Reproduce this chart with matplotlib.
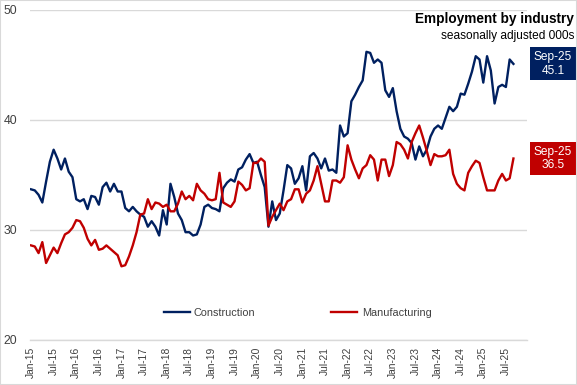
import matplotlib
matplotlib.use("Agg")
import matplotlib.pyplot as plt
import matplotlib.transforms as mtransforms
from matplotlib.patches import Rectangle

months = ["Jan", "Feb", "Mar", "Apr", "May", "Jun", "Jul", "Aug", "Sep", "Oct", "Nov", "Dec"]
dates = [f"{months[i % 12]}-{15 + i // 12}" for i in range(129)]  # Jan-15 .. Sep-25

construction = [
    33.7, 33.6, 33.2, 32.5, 34.4, 36.2, 37.3, 36.5, 35.5, 36.5, 35.3, 34.8,
    32.8, 32.6, 32.8, 31.9, 33.1, 33.0, 32.3, 33.9, 34.3, 33.5, 34.2, 33.5,
    33.5, 32.0, 31.7, 32.1, 31.7, 31.4, 31.2, 30.3, 30.8, 30.3, 29.5, 31.8,
    30.5, 34.2, 33.0, 31.5, 30.9, 29.8, 29.8, 29.5, 29.6, 30.5, 32.1, 32.3,
    32.0, 31.9, 31.7, 33.8, 34.3, 34.6, 34.4, 35.5, 35.7, 36.4, 36.9, 36.1,
    36.2, 35.0, 33.9, 30.3, 32.6, 30.9, 31.5, 33.6, 35.9, 35.6, 34.2, 34.7,
    35.8, 33.6, 36.7, 37.0, 36.5, 35.6, 36.5, 35.4, 35.5, 35.2, 39.5, 38.5,
    38.8, 41.7, 42.3, 43.0, 43.6, 46.2, 46.1, 45.2, 45.5, 45.2, 42.7, 42.1,
    42.9, 40.8, 39.2, 38.5, 38.3, 37.9, 36.4, 37.6, 36.7, 37.3, 38.5, 39.2,
    39.5, 39.2, 40.2, 41.2, 40.8, 41.2, 42.4, 42.3, 43.3, 44.4, 45.8, 45.5,
    43.4, 45.8, 44.5, 41.5, 43.0, 43.2, 43.0, 45.5, 45.1,
]

manufacturing = [
    28.6, 28.5, 27.9, 28.9, 27.0, 27.7, 28.4, 27.9, 28.8, 29.6, 29.8, 30.2,
    30.9, 30.8, 30.2, 29.2, 28.6, 29.1, 28.2, 28.3, 28.6, 28.3, 28.0, 27.7,
    26.7, 26.8, 27.6, 28.6, 29.8, 31.4, 31.5, 32.8, 31.9, 32.5, 32.4, 32.1,
    32.3, 31.7, 31.7, 32.4, 33.5, 32.8, 33.1, 32.7, 34.2, 33.6, 33.3, 32.8,
    32.7, 32.8, 35.2, 32.5, 32.3, 32.1, 32.6, 34.4, 34.1, 33.6, 33.8, 36.1,
    36.1, 36.5, 36.2, 30.4, 31.2, 31.8, 32.4, 31.8, 32.6, 32.8, 33.7, 33.7,
    32.5, 33.3, 33.6, 34.5, 35.8, 34.2, 32.6, 32.6, 34.5, 34.5, 34.3, 34.8,
    37.7, 36.4, 35.5, 34.7, 35.6, 35.9, 36.8, 36.4, 34.5, 36.4, 36.4, 34.9,
    35.9, 38.0, 37.8, 37.3, 36.5, 38.0, 38.8, 39.5, 38.4, 37.2, 35.9, 36.9,
    36.7, 36.7, 36.8, 37.3, 35.1, 34.2, 33.8, 33.6, 35.2, 35.8, 36.3, 36.1,
    34.8, 33.6, 33.6, 33.6, 34.5, 35.1, 34.5, 34.7, 36.5,
]

series_names = ["Construction", "Manufacturing"]
title = "Employment by industry"
subtitle = "seasonally adjusted 000s"
y_ticks = [20, 30, 40, 50]

NAVY = "#002060"
RED = "#C00000"
GRID = "#D9D9D9"
TXT = "#404040"

plt.rcParams['font.family'] = ['Liberation Sans', 'DejaVu Sans']

fig = plt.figure(figsize=(5.77, 3.85), dpi=100)
fig.patch.set_facecolor("white")
# light chart border
fig.patches.append(Rectangle((0, 0), 1, 1, transform=fig.transFigure, fill=False,
                             edgecolor="#D9D9D9", linewidth=1.5, zorder=0))

ax = fig.add_axes([30 / 577, 1 - 340 / 385, 497 / 577, 330 / 385])
x = list(range(len(dates)))
ax.plot(x, construction, color=NAVY, lw=1.7, label=series_names[0], zorder=3)
ax.plot(x, manufacturing, color=RED, lw=1.7, label=series_names[1], zorder=3)

ax.set_ylim(20, 50)
ax.set_yticks(y_ticks)
ax.set_xlim(-0.27, 131.6)
tick_pos = list(range(0, len(dates), 6))
ax.set_xticks(tick_pos)
ax.set_xticklabels([dates[i] for i in tick_pos], rotation=90, fontsize=7.4, color=TXT)
ax.tick_params(axis='y', labelsize=8.8, colors=TXT, length=0, pad=9)
ax.tick_params(axis='x', length=0, pad=5)
ax.grid(axis='y', color=GRID, lw=1)
ax.set_axisbelow(True)
for s in ["top", "right", "left"]:
    ax.spines[s].set_visible(False)
ax.spines["bottom"].set_color(GRID)
ax.spines["bottom"].set_linewidth(1)

leg = ax.legend(loc="center", bbox_to_anchor=(297.5 / 577, 1 - 313 / 385),
                bbox_transform=fig.transFigure, ncol=2, frameon=False,
                fontsize=7.8, handlelength=2.4, handletextpad=0.4,
                columnspacing=7.0, labelcolor=TXT)

fig.text(574 / 577, 1 - 19 / 385, title, ha="right", va="center",
         fontsize=9.8, fontweight="bold", color="black")
fig.text(574 / 577, 1 - 36 / 385, subtitle, ha="right", va="center",
         fontsize=8.6, color="black")

trans = mtransforms.blended_transform_factory(fig.transFigure, ax.transData)
for vals, col in [(construction, NAVY), (manufacturing, RED)]:
    v = vals[-1]
    ax.text(553 / 577, v, f"{dates[-1]}\n{v:.1f}", transform=trans, ha="center",
            va="center", fontsize=8.6, color="white", linespacing=1.2,
            bbox=dict(boxstyle="square,pad=0.3", facecolor=col, edgecolor="none"),
            clip_on=False)

fig.savefig("out.png", dpi=100)
